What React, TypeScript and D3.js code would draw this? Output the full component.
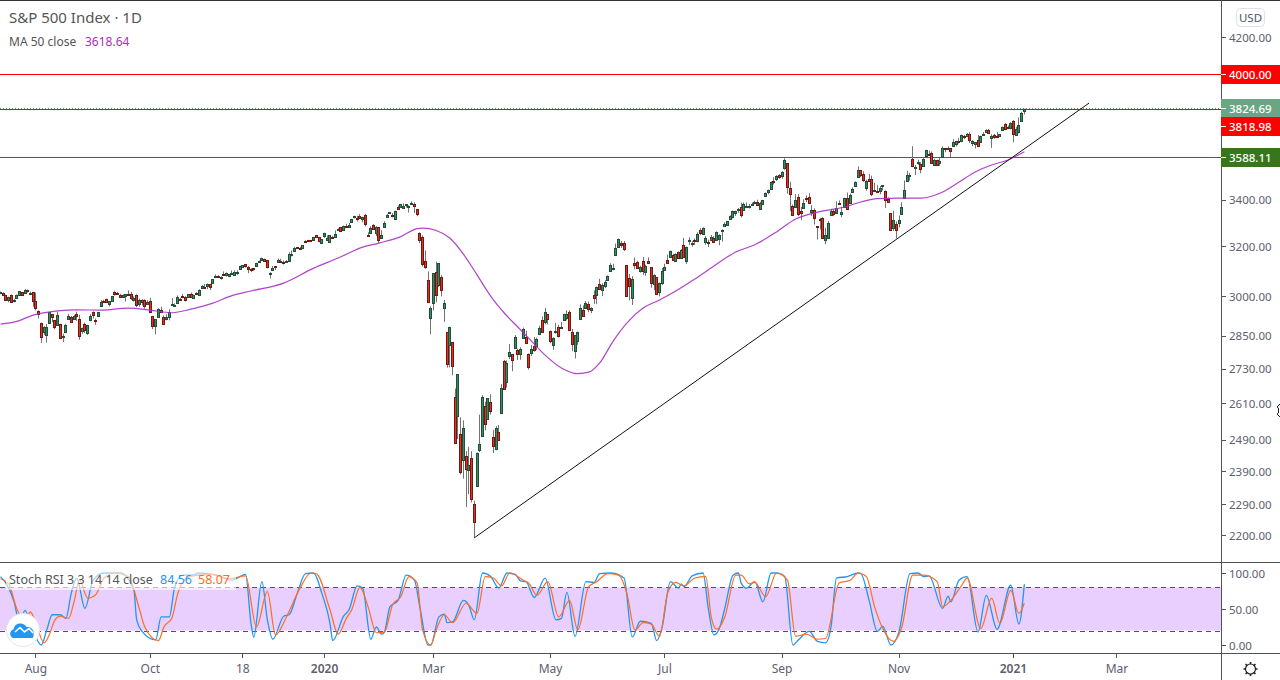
import React from "react";
import * as d3 from "d3";

// S&P 500 daily candles, 15 Jul 2019 .. 8 Jan 2021, one row per month
const opens = [
3012,3012,3005,2985,3005,2982,2994,3004,3016,3013,3024,3008,3016,
2981,2943,2898,2862,2853,2897,2930,2907,2889,2894,2847,2864,2913,2919,2911,2931,2912,2866,2893,2861,2910,2938,
2910,2924,2960,2980,2989,2971,2982,3018,3012,3003,2996,3001,3010,3008,2984,3003,2969,2985,2985,2968,
2983,2924,2885,2919,2945,2920,2911,2919,2964,2966,2974,2990,3000,2998,2997,3010,2994,3014,3004,3033,3037,3039,3047,
3050,3078,3081,3076,3087,3082,3081,3090,3084,3091,3107,3117,3127,3114,3109,3113,3118,3135,3145,3147,
3143,3087,3103,3119,3135,3141,3135,3135,3141,3167,3183,3196,3195,3193,3223,3227,3225,3227,3247,3240,3215,
3245,3226,3218,3241,3238,3267,3281,3271,3285,3283,3303,3323,3321,3330,3315,3334,3248,3255,3289,3257,3282,
3236,3281,3324,3344,3335,3318,3366,3370,3365,3378,3370,3380,3380,3360,3258,3238,3140,3063,2916,
2974,3096,3045,3075,2954,2863,2814,2825,2631,2569,2508,2426,2437,2394,2432,2291,2345,2458,2501,2600,2559,2614,
2499,2459,2514,2578,2758,2685,2776,2782,2805,2796,2782,2842,2845,2784,2787,2811,2813,2855,2909,2901,2930,
2869,2815,2868,2883,2879,2908,2915,2939,2865,2794,2829,2914,2948,2953,2969,2948,3005,3005,3046,3025,
3038,3065,3098,3112,3163,3199,3213,3213,3124,3072,2994,3131,3136,3101,3140,3095,3138,3115,3047,3074,3018,3050,
3105,3143,3155,3166,3141,3177,3153,3206,3141,3226,3209,3225,3224,3268,3254,3218,3219,3227,3235,3228,3232,3270,
3288,3289,3317,3323,3340,3357,3370,3355,3373,3369,3380,3388,3392,3360,3380,3418,3436,3449,3486,3495,3509,
3507,3543,3564,3453,3371,3370,3413,3352,3363,3408,3411,3346,3357,3285,3316,3320,3226,3236,3333,3350,3341,
3385,3339,3368,3409,3385,3434,3459,3500,3534,3515,3453,3493,3493,3439,3439,3439,3464,3441,3403,3342,3278,3293,
3297,3336,3406,3485,3508,3583,3543,3564,3563,3552,3600,3610,3612,3559,3579,3567,3594,3635,3634,3634,
3645,3654,3669,3670,3695,3694,3705,3660,3656,3675,3666,3696,3713,3722,3684,3698,3694,3694,3723,3750,3736,3733,
3764,3698,3712,3764,3815,
];
const highs = [
3018,3015,3006,2998,3007,2990,3006,3020,3016,3028,3026,3018,3017,
3014,2945,2898,2885,2893,2939,2930,2907,2940,2894,2857,2894,2932,2924,2928,2940,2928,2880,2899,2891,2931,2941,
2914,2938,2985,2986,2990,2980,3001,3021,3017,3009,3007,3008,3022,3016,2999,3007,2990,2988,2988,2984,
2993,2924,2911,2953,2959,2926,2930,2949,2993,2972,3003,2994,3008,3000,3008,3014,3006,3016,3027,3044,3047,3050,3047,
3067,3085,3083,3079,3098,3094,3088,3102,3102,3103,3121,3124,3128,3119,3111,3112,3133,3142,3154,3150,
3144,3095,3120,3120,3150,3149,3142,3143,3176,3183,3198,3198,3198,3206,3226,3228,3227,3240,3248,3240,3231,
3258,3246,3247,3245,3267,3276,3282,3288,3295,3299,3317,3330,3330,3337,3326,3338,3259,3285,3294,3285,3282,
3268,3306,3338,3347,3342,3352,3375,3382,3385,3381,3375,3393,3389,3360,3259,3246,3183,3098,2960,
3091,3137,3131,3083,2985,2863,2883,2825,2661,2711,2563,2553,2453,2467,2453,2300,2449,2572,2638,2616,2627,2641,
2522,2534,2538,2676,2761,2760,2819,2782,2852,2802,2807,2880,2868,2785,2816,2845,2842,2887,2922,2955,2930,
2869,2844,2898,2891,2901,2932,2945,2945,2875,2852,2865,2968,2964,2981,2979,2957,3022,3037,3068,3050,
3063,3082,3131,3129,3212,3233,3223,3223,3124,3088,3079,3154,3141,3121,3156,3125,3155,3115,3086,3074,3054,3112,
3129,3166,3183,3170,3172,3179,3189,3236,3200,3238,3222,3234,3259,3277,3280,3244,3228,3248,3243,3263,3251,3272,
3302,3307,3331,3352,3352,3364,3387,3388,3388,3382,3388,3396,3400,3391,3399,3432,3445,3482,3501,3510,3514,
3529,3588,3564,3480,3379,3425,3425,3369,3402,3419,3429,3376,3362,3286,3321,3324,3279,3307,3360,3358,3393,
3397,3369,3409,3432,3427,3455,3482,3550,3534,3528,3490,3516,3508,3476,3465,3461,3466,3441,3410,3342,3352,3305,
3331,3389,3486,3530,3521,3645,3557,3581,3570,3593,3628,3624,3620,3586,3582,3589,3643,3635,3644,3634,
3678,3670,3683,3700,3698,3708,3712,3674,3665,3698,3695,3712,3726,3727,3702,3703,3712,3703,3740,3756,3744,3760,
3770,3738,3783,3811,3827,
];
const lows = [
3008,3002,2984,2976,2975,2976,2990,3003,3000,3013,3014,3006,2959,
2945,2914,2823,2852,2825,2897,2900,2874,2886,2839,2826,2864,2913,2900,2911,2905,2835,2857,2860,2853,2910,2914,
2891,2921,2960,2977,2977,2960,2982,3002,3007,2994,2996,2979,3006,2985,2979,2957,2959,2964,2952,2968,
2938,2874,2855,2919,2935,2892,2907,2907,2964,2963,2974,2985,2992,2979,2997,2995,2991,3004,3001,3032,3032,3027,3024,
3050,3075,3073,3065,3080,3077,3075,3085,3084,3084,3107,3113,3113,3091,3095,3100,3118,3132,3143,3139,
3110,3070,3103,3103,3135,3135,3126,3134,3138,3159,3183,3191,3191,3193,3216,3223,3222,3227,3235,3217,3212,
3236,3222,3215,3233,3237,3266,3263,3271,3278,3280,3303,3318,3305,3320,3302,3284,3241,3255,3272,3243,3214,
3236,3281,3323,3342,3323,3318,3356,3370,3360,3366,3344,3378,3342,3328,3214,3118,3109,2978,2855,
2945,2976,3035,2999,2902,2734,2735,2707,2478,2492,2380,2367,2281,2320,2295,2192,2345,2450,2501,2520,2559,2572,
2447,2456,2488,2575,2657,2664,2765,2721,2805,2761,2762,2842,2821,2727,2776,2791,2797,2855,2860,2892,2892,
2822,2798,2857,2844,2876,2908,2907,2870,2793,2767,2816,2914,2923,2953,2938,2934,2970,2969,3024,3000,
3032,3062,3098,3102,3163,3196,3194,3181,2999,2984,2966,3106,3109,3093,3083,3080,3128,3033,3024,3005,2999,3044,
3101,3128,3155,3142,3137,3150,3153,3152,3128,3205,3199,3206,3217,3247,3255,3207,3198,3227,3217,3226,3205,3220,
3285,3288,3317,3318,3329,3343,3323,3355,3363,3361,3379,3380,3372,3355,3380,3418,3425,3444,3468,3484,3494,
3494,3535,3427,3350,3330,3370,3329,3311,3363,3390,3385,3328,3292,3229,3271,3232,3209,3233,3333,3328,3339,
3381,3324,3368,3355,3385,3434,3459,3500,3501,3480,3440,3483,3416,3439,3431,3424,3441,3364,3389,3269,3265,3234,
3280,3336,3405,3485,3486,3547,3511,3557,3519,3552,3600,3600,3568,3558,3556,3553,3594,3617,3630,3594,
3645,3644,3658,3670,3679,3688,3660,3645,3634,3644,3660,3696,3710,3703,3637,3680,3689,3690,3723,3723,3730,3726,
3663,3696,3705,3764,3798,
];
const closes = [
3014.30,3004.04,2984.42,2995.11,2976.61,2985.03,3005.47,3019.56,3003.67,3025.86,3020.97,3013.18,2980.38,
2953.56,2932.05,2844.74,2881.77,2883.98,2938.09,2918.65,2882.70,2926.32,2840.60,2847.60,2888.68,2923.65,2900.51,2924.43,2922.95,2847.11,2878.38,2869.16,2887.94,2924.58,2926.46,
2906.27,2937.78,2976.00,2978.71,2978.43,2979.39,3000.93,3009.57,3007.39,2997.96,3005.70,3006.73,3006.79,2992.07,2991.78,2966.60,2984.87,2977.62,2961.79,2976.74,
2940.25,2887.61,2910.63,2952.01,2938.79,2893.06,2919.40,2938.13,2970.27,2966.15,2995.68,2989.69,2997.95,2986.20,3006.72,2995.99,3004.52,3010.29,3022.55,3039.42,3036.89,3046.77,3037.56,
3066.91,3078.27,3074.62,3076.78,3085.18,3093.08,3087.01,3091.84,3094.04,3096.63,3120.46,3122.03,3120.18,3108.46,3103.54,3110.29,3133.64,3140.52,3153.63,3140.98,
3113.87,3093.20,3112.76,3117.43,3145.91,3135.96,3132.52,3141.63,3168.57,3168.80,3191.45,3192.52,3191.14,3205.37,3221.22,3224.01,3223.38,3239.91,3240.02,3221.29,3230.78,
3257.85,3234.85,3246.28,3237.18,3253.05,3274.70,3265.35,3288.13,3283.15,3289.29,3316.81,3329.62,3320.79,3321.75,3325.54,3295.47,3243.63,3276.24,3273.40,3283.66,3225.52,
3248.92,3297.59,3334.69,3345.78,3327.71,3352.09,3357.75,3379.45,3373.94,3380.16,3370.29,3386.15,3373.23,3337.75,3225.89,3128.21,3116.39,2978.76,2954.22,
3090.23,3003.37,3130.12,3023.94,2972.37,2746.56,2882.23,2741.38,2480.64,2711.02,2386.13,2529.19,2398.10,2409.39,2304.92,2237.40,2447.33,2475.56,2630.07,2541.47,2626.65,2584.59,
2470.50,2526.90,2488.65,2663.68,2659.41,2749.98,2789.82,2761.63,2846.06,2783.36,2799.55,2874.56,2823.16,2736.56,2799.31,2797.80,2836.74,2878.48,2863.39,2939.51,2912.43,
2830.71,2842.74,2868.44,2848.42,2881.19,2929.80,2930.19,2870.12,2820.00,2852.50,2863.70,2953.91,2922.94,2971.61,2948.51,2955.45,2991.77,3036.13,3029.73,3044.31,
3055.73,3080.82,3122.87,3112.35,3193.93,3232.39,3207.18,3190.14,3002.10,3041.31,3066.59,3124.74,3113.49,3115.34,3097.74,3117.86,3131.29,3050.33,3083.76,3009.05,3053.24,3100.29,
3115.86,3130.01,3179.72,3145.32,3169.94,3152.05,3185.04,3155.22,3197.52,3226.56,3215.57,3224.73,3251.84,3257.30,3276.02,3235.66,3215.63,3239.41,3218.44,3258.44,3246.22,3271.12,
3294.61,3306.51,3327.77,3349.16,3351.28,3360.47,3333.69,3380.35,3373.43,3372.85,3381.99,3389.78,3374.85,3385.51,3397.16,3431.28,3443.62,3478.73,3484.55,3508.01,3500.31,
3526.65,3580.84,3455.06,3426.96,3331.84,3398.96,3339.19,3340.97,3383.54,3401.20,3385.49,3357.01,3319.47,3281.06,3315.57,3236.92,3246.59,3298.46,3351.60,3335.47,3363.00,
3380.80,3348.42,3408.63,3360.97,3419.44,3446.83,3477.14,3534.22,3511.93,3488.67,3483.34,3483.81,3426.92,3443.12,3435.56,3453.49,3465.39,3400.97,3390.68,3271.03,3310.11,3269.96,
3310.24,3369.16,3443.44,3510.45,3509.44,3550.50,3545.53,3572.66,3537.01,3585.15,3626.91,3609.53,3567.79,3581.87,3557.54,3577.59,3635.41,3629.65,3638.35,3621.63,
3662.45,3669.01,3666.72,3699.12,3691.96,3702.25,3672.82,3668.10,3663.46,3647.49,3694.62,3701.17,3722.48,3709.41,3694.92,3687.26,3690.01,3703.06,3735.36,3727.04,3732.04,3756.07,
3700.65,3726.86,3748.14,3803.79,3824.69,
];

// MA 50 close, read at these bars
const maBars = [0,6,12,21,28,37,47,55,63,70,78,85,92,104,115,124,133,139,147,153,155,160,165,170,175,180,185,190,195,200,206,212,216,220,225,230,236,242,248,255,262,270,277,285,292,300,310,316,322,330,338,346,352,358,364,370,376];
const maVals = [2893,2903,2927,2943,2947,2946,2954,2946,2936,2950,2973,3002,3020,3051,3111,3152,3197,3214,3241,3275,3277,3267,3235,3168,3084,3000,2935,2882,2830,2779,2733,2713,2718,2750,2830,2897,2954,2985,3020,3067,3120,3177,3207,3261,3316,3346,3368,3390,3405,3407,3407,3434,3479,3525,3557,3580,3618.64];

// Stoch RSI %K and %D, read at these bars
const kBars = [0,2,5,7,9,11,15,17,19,22,24,26,28,31,34,38,44,49,50,52,57,59,62,64,67,70,73,79,85,90,92,93,96,98,100,104,106,109,112,115,118,121,122,126,128,131,133,136,138,140,141,143,146,149,152,154,157,158,161,163,164,166,170,172,174,177,180,183,186,189,191,193,196,200,204,206,208,211,215,218,220,224,229,232,235,239,241,243,246,249,250,251,254,258,260,262,264,266,269,271,272,274,277,280,283,285,288,291,293,297,300,303,305,307,311,315,316,319,322,324,327,330,334,337,339,341,346,348,349,352,355,359,362,366,371,374,376];
const kVals = [95,86,60,30,48,30,0,21,42,42,37,72,93,51,90,100,100,76,35,19,7,39,39,81,97,97,100,97,90,98,30,11,88,35,8,40,42,72,99,100,72,30,6,40,49,82,79,8,25,15,18,53,62,97,90,53,0,0,39,43,31,32,62,55,35,100,95,79,100,98,89,88,66,93,35,37,73,12,88,87,99,100,93,11,33,30,6,25,88,79,85,81,96,100,49,14,23,51,97,100,86,79,88,60,100,100,95,0,7,19,5,3,25,93,95,100,99,62,19,26,0,19,99,100,95,96,51,68,60,90,95,18,69,22,83,29,84.56];
const dBars = [0,3,6,9,11,13,16,18,20,22,25,27,29,32,35,38,42,47,51,53,58,60,63,65,68,72,78,84,90,94,98,101,105,110,114,116,121,124,127,129,132,135,138,141,144,147,150,153,155,158,160,163,166,171,175,178,181,184,187,192,194,197,201,205,209,212,216,219,223,227,230,233,236,239,242,245,248,251,255,259,261,263,266,270,272,275,277,281,285,289,292,296,300,303,308,312,315,318,321,324,328,331,335,339,344,346,349,353,355,360,364,367,371,374,376];
const dVals = [92,85,50,35,46,30,3,15,35,40,37,60,90,65,70,93,100,95,50,25,6,25,38,70,92,97,98,92,96,25,74,14,39,79,100,99,49,15,37,49,80,53,17,18,56,67,95,86,21,0,21,42,31,58,44,95,93,82,100,90,86,69,88,39,62,21,81,88,99,97,72,21,31,29,12,72,87,82,93,95,39,22,39,97,97,85,87,67,100,90,12,15,8,9,86,90,100,95,53,23,5,25,97,97,88,53,62,83,93,23,65,30,76,44,58.07];

// Axis labels
const priceTicks = [4200,3400,3200,3000,2850,2730,2610,2490,2390,2290,2200];
const stochTicks = [100,50,0];
const timeBars = [13,55,89,119,159,202,244,287,330,372,410];
const timeLabels = ["Aug","Oct","18","2020","Mar","May","Jul","Sep","Nov","2021","Mar"];
const levels = [
  { value: 4000, label: "4000.00", color: "#ff0000" },
  { value: 3818.98, label: "3818.98", color: "#ff0000" },
  { value: 3588.11, label: "3588.11", color: "#38761d" },
];
const lastPrice = 3824.69;
const trendStart = { bar: 174, price: 2192 };
const trendEnd = { bar: 399.8, price: 3855 };

const FONT = "'Noto Sans', sans-serif";
const AXIS = "#50535e";
const TXT = "#5d606b";
const W = 1280, H = 680, AX = 1221;

const x = d3.scaleLinear().domain([0, 376]).range([0.5, 0.5 + 2.723 * 376]);
const y = d3.scaleLog().domain([2200, 4200]).range([535, 37]);
const yS = d3.scaleLinear().domain([0, 100]).range([645, 573]);

const maLine = d3.line<number>().x((_, i) => x(maBars[i])).y((v) => y(v)).curve(d3.curveMonotoneX);
const kLine = d3.line<number>().x((_, i) => x(kBars[i])).y((v) => yS(v)).curve(d3.curveMonotoneX);
const dLine = d3.line<number>().x((_, i) => x(dBars[i])).y((v) => yS(v)).curve(d3.curveMonotoneX);

function Candles() {
  return (
    <g>
      {closes.map((c, i) => {
        const o = opens[i], h = highs[i], l = lows[i];
        const cx = Math.floor(x(i)) + 0.5;
        const up = c >= o;
        const top = Math.round(y(Math.max(o, c))) + 0.5;
        const bot = Math.max(Math.round(y(Math.min(o, c))) + 0.5, top + 1);
        return (
          <g key={i}>
            <line x1={cx} x2={cx} y1={y(h)} y2={y(l)} stroke="#737375" strokeWidth={1} />
            <rect x={cx - 1} y={top} width={2} height={bot - top}
              fill={up ? "#3c8a60" : "#e4301f"} stroke={up ? "#1f4f38" : "#6e1a12"} strokeWidth={1} />
          </g>
        );
      })}
    </g>
  );
}

function Badge({ yc, text, bg }: { yc: number; text: string; bg: string }) {
  return (
    <g>
      <rect x={AX} y={yc - 9.5} width={W - AX} height={19} fill={bg} />
      <line x1={AX} x2={AX + 5} y1={yc} y2={yc} stroke="#fff" />
      <text x={1229} y={yc + 4.2} fontSize={11.5} fontWeight={500} fill="#fff" fontFamily={FONT}>{text}</text>
    </g>
  );
}

export default function App() {
  const gearTeeth = d3.range(8).map((i) => (i * Math.PI) / 4);
  return (
    <svg width={W} height={H} viewBox={`0 0 ${W} ${H}`} style={{ position: "fixed", left: 0, top: 0, background: "#fff" }}>
      {/* price lines */}
      <line x1={0} x2={AX} y1={108.5} y2={108.5} stroke="#5f8f74" strokeDasharray="1 2" data-price={lastPrice} />
      {levels.map((d) => (
        <line key={d.label} x1={0} x2={AX} y1={Math.round(y(d.value)) - 0.5} y2={Math.round(y(d.value)) - 0.5}
          stroke={d.color} strokeWidth={1} />
      ))}

      <Candles />
      <path d={maLine(maVals) || ""} fill="none" stroke="#a92fc4" strokeOpacity={0.9} strokeWidth={1.2} />
      <line x1={x(trendStart.bar)} y1={y(trendStart.price)} x2={x(trendEnd.bar)} y2={y(trendEnd.price)} stroke="#111" strokeWidth={1} />

      {/* legend */}
      <text x={9} y={23} fontSize={15} fill="#555" fontFamily={FONT}>S&amp;P 500 Index · 1D</text>
      <text x={9} y={46} fontSize={12} fill="#555" fontFamily={FONT}>MA 50 close</text>
      <text x={85} y={46} fontSize={12} fill="#ab2fb5" fontFamily={FONT}>3618.64</text>

      {/* Stoch RSI pane */}
      <rect x={0} y={yS(80)} width={AX} height={yS(20) - yS(80)} fill="#e9cffd" />
      <line x1={0} x2={AX} y1={Math.round(yS(80)) + 0.5} y2={Math.round(yS(80)) + 0.5} stroke="#5a4a6a" strokeDasharray="5 4" />
      <line x1={0} x2={AX} y1={Math.round(yS(20)) + 0.5} y2={Math.round(yS(20)) + 0.5} stroke="#5a4a6a" strokeDasharray="5 4" />
      <path d={kLine(kVals) || ""} fill="none" stroke="#2196f3" strokeWidth={1.3} />
      <path d={dLine(dVals) || ""} fill="none" stroke="#ff6d20" strokeWidth={1.2} />
      <rect x={6} y={570} width={230} height={20} fill="#fff" fillOpacity={0.6} />
      <text x={9} y={584} fontSize={12.5} fill="#555" fontFamily={FONT}>Stoch RSI 3 3 14 14 close</text>
      <text x={160} y={584} fontSize={12.5} fill="#2196f3" fontFamily={FONT}>84.56</text>
      <text x={198} y={584} fontSize={12.5} fill="#ff6d20" fontFamily={FONT}>58.07</text>

      {/* logo */}
      <circle cx={23} cy={630} r={16.5} fill="#fff" stroke="#e6e3ee" />
      <path d="M13 638 a4.5 4.5 0 0 1 0.5 -8.5 a7 7 0 0 1 13 -2.5 a6 6 0 0 1 7 7 a3.5 3.5 0 0 1 -1 4 z" fill="#2196f3" />
      <path d="M15 632 L20 627.5 L24.5 632 L29 628.5 L33 633" fill="none" stroke="#fff" strokeWidth={1.6} />

      {/* frame */}
      <line x1={0} x2={W} y1={0.5} y2={0.5} stroke="#333" />
      <line x1={0} x2={W} y1={562.5} y2={562.5} stroke={AXIS} />
      <line x1={0} x2={W} y1={653.5} y2={653.5} stroke={AXIS} />
      <line x1={AX + 0.5} x2={AX + 0.5} y1={0} y2={H} stroke={AXIS} />

      {/* price axis */}
      {priceTicks.map((t) => (
        <g key={t}>
          <line x1={AX} x2={AX + 5} y1={Math.round(y(t)) + 0.5} y2={Math.round(y(t)) + 0.5} stroke={AXIS} />
          <text x={1229} y={y(t) + 4.7} fontSize={11.5} fill={TXT} fontFamily={FONT}>{t.toFixed(2)}</text>
        </g>
      ))}
      {stochTicks.map((t) => (
        <g key={t}>
          <line x1={AX} x2={AX + 5} y1={yS(t) + 0.5} y2={yS(t) + 0.5} stroke={AXIS} />
          <text x={1229} y={yS(t) + 4.7} fontSize={11.5} fill={TXT} fontFamily={FONT}>{t.toFixed(2)}</text>
        </g>
      ))}
      <Badge yc={74.5} text="4000.00" bg="#ff0000" />
      <Badge yc={108.5} text="3824.69" bg="#6ba583" />
      <Badge yc={126.5} text="3818.98" bg="#ff0000" />
      <Badge yc={157.5} text="3588.11" bg="#38761d" />
      <rect x={1236.5} y={8.5} width={28} height={18} rx={4} fill="#fff" stroke="#dfe1e8" />
      <text x={1250.5} y={21.5} fontSize={11.5} fill="#4a5470" textAnchor="middle" fontFamily={FONT}>USD</text>

      {/* cursor at price axis */}
      <path d="M1280 404 L1277 407 L1278.5 408 L1278.5 413 L1277 414 L1280 417" fill="#fff" stroke="#222" strokeWidth={1} />

      {/* time axis */}
      {timeBars.map((b, i) => (
        <g key={b}>
          <line x1={Math.floor(x(b)) + 0.5} x2={Math.floor(x(b)) + 0.5} y1={653} y2={658} stroke={AXIS} />
          <text x={x(b)} y={673} fontSize={12} fill={TXT} textAnchor="middle" fontFamily={FONT}
            fontWeight={timeLabels[i] === "2020" || timeLabels[i] === "2021" ? 600 : 400}>{timeLabels[i]}</text>
        </g>
      ))}

      {/* settings gear */}
      <g stroke="#222" fill="none">
        <circle cx={1250.5} cy={669} r={5} strokeWidth={1.2} />
        {gearTeeth.map((a, i) => (
          <line key={i} x1={1250.5 + 5 * Math.cos(a)} y1={669 + 5 * Math.sin(a)} x2={1250.5 + 7 * Math.cos(a)} y2={669 + 7 * Math.sin(a)} strokeWidth={1.6} />
        ))}
      </g>
    </svg>
  );
}
